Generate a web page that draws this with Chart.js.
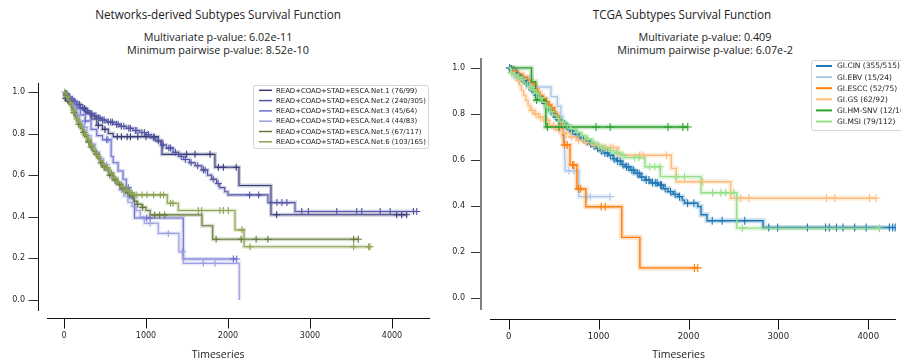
<!DOCTYPE html>
<html>
<head>
<meta charset="utf-8">
<script src="https://cdn.jsdelivr.net/npm/chart.js@4.4.1/dist/chart.umd.min.js"></script>
<style>
  body { margin: 0; width: 901px; height: 362px; background: #fff; position: relative; overflow: hidden; font-family: "Open Sans", sans-serif; color: #222; }
  .t { position: absolute; white-space: nowrap; transform: translateX(-50%); line-height: 1; }
  canvas { position: absolute; top: 0; }
</style>
</head>
<body>
<div class="t" style="left:218px;top:9px;font-size:11.7px">Networks-derived Subtypes Survival Function</div>
<div class="t" style="left:218px;top:32px;font-size:10.8px">Multivariate p-value: 6.02e-11</div>
<div class="t" style="left:218px;top:45px;font-size:10.8px">Minimum pairwise p-value: 8.52e-10</div>
<div class="t" style="left:682px;top:9px;font-size:11.7px">TCGA Subtypes Survival Function</div>
<div class="t" style="left:705px;top:32px;font-size:10.8px">Multivariate p-value: 0.409</div>
<div class="t" style="left:705px;top:45px;font-size:10.8px">Minimum pairwise p-value: 6.07e-2</div>

<canvas id="netChart" width="450" height="362" style="left:0"></canvas>
<canvas id="tcgaChart" width="451" height="362" style="left:450px"></canvas>

<script>
// ---- tick values ----
const survivalTicks = [0, 0.2, 0.4, 0.6, 0.8, 1.0];
const timeTicks = [0, 1000, 2000, 3000, 4000];

// ---- left panel: network-derived subtypes ----
const netLabels = [
    "READ+COAD+STAD+ESCA.Net.1 (76/99)",
    "READ+COAD+STAD+ESCA.Net.2 (240/305)",
    "READ+COAD+STAD+ESCA.Net.3 (45/64)",
    "READ+COAD+STAD+ESCA.Net.4 (44/83)",
    "READ+COAD+STAD+ESCA.Net.5 (67/117)",
    "READ+COAD+STAD+ESCA.Net.6 (103/165)"
];
const netColors = ["#393b79", "#5254a3", "#6b6ecf", "#9c9ede", "#637939", "#8ca252"];

// [time, survival after the drop]
const net1Steps = [[0,1],[10,.97],[30,.96],[120,.94],[200,.92],[260,.90],[330,.87],[400,.84],[470,.82],[540,.80],[600,.785],[1150,.765],[1195,.70],[1841,.638],[2134,.55],[2524,.41]];
const net1Censored = [20,45,60,250,420,500,650,700,770,810,900,1000,1100,1496,1598,1781,1882,1943,2100,2593,4057,4118,4179];

const net2Steps = [[0,1],[20,.99],[50,.975],[80,.965],[110,.955],[150,.94],[200,.925],[250,.91],[300,.895],[350,.885],[400,.875],[450,.865],[520,.855],[600,.845],[680,.835],[760,.825],[840,.815],[920,.805],[1000,.795],[1060,.78],[1120,.765],[1180,.745],[1250,.73],[1330,.71],[1400,.69],[1460,.675],[1530,.66],[1600,.645],[1680,.625],[1750,.60],[1800,.58],[1860,.56],[1900,.54],[1960,.52],[2000,.505],[2487,.468],[2817,.425]];
const net2Censored = [30,60,100,130,170,190,230,270,290,320,340,370,390,420,440,470,490,540,570,590,640,660,700,730,790,810,870,890,950,980,1030,1090,1150,1210,1280,1300,1360,1430,1480,1550,1630,1700,1720,1820,1880,2264,2374,2596,2657,2718,2899,2980,3326,3570,3631,3855,3977,4261,4302];

const net3Steps = [[0,1],[20,.985],[60,.97],[100,.95],[150,.92],[200,.89],[260,.86],[330,.82],[400,.79],[470,.77],[575,.69],[600,.66],[660,.62],[720,.58],[760,.54],[800,.49],[860,.394],[1455,.197]];
const net3Censored = [40,130,260,520,537,785,1008,1049,2065,2106];

const net4Steps = [[0,1],[20,.98],[50,.96],[80,.94],[110,.92],[150,.89],[190,.86],[230,.83],[280,.79],[330,.75],[380,.71],[430,.68],[480,.65],[530,.62],[580,.59],[630,.56],[680,.53],[730,.50],[780,.47],[830,.45],[880,.43],[930,.40],[980,.369],[1150,.32],[1402,.232],[1455,.176],[2138,0]];
const net4Censored = [30,90,170,250,400,520,700,1050,1272,1443,1699,1841];

const net5Steps = [[0,1],[15,.985],[35,.97],[55,.955],[75,.94],[95,.92],[115,.90],[135,.88],[155,.86],[175,.845],[200,.825],[225,.805],[250,.785],[285,.76],[320,.735],[350,.715],[380,.70],[410,.68],[440,.66],[470,.64],[500,.625],[550,.60],[600,.577],[650,.555],[700,.535],[750,.515],[800,.50],[850,.475],[890,.46],[950,.445],[1000,.43],[1050,.409],[1683,.357],[1813,.292]];
const net5Censored = [25,60,120,180,240,300,330,400,450,490,560,620,680,720,780,830,900,960,1106,1167,1228,1855,2160,2343,2486,3532,3589];

const net6Steps = [[0,1],[15,.99],[35,.975],[55,.96],[75,.945],[95,.93],[115,.91],[135,.89],[155,.87],[175,.855],[200,.835],[225,.815],[250,.795],[285,.77],[320,.745],[350,.725],[380,.705],[410,.69],[440,.67],[470,.65],[500,.635],[550,.61],[600,.585],[650,.565],[700,.545],[750,.525],[800,.515],[850,.505],[1260,.465],[1394,.43],[2085,.337],[2195,.256]];
const net6Censored = [10,40,80,120,160,210,260,300,340,390,420,480,530,580,620,660,720,760,790,830,890,951,1012,1093,1175,1215,1300,1330,1638,1679,1902,1943,2004,2170,2268,3532,3715,3732];

// ---- right panel: TCGA subtypes ----
const tcgaLabels = ["GI.CIN (355/515)", "GI.EBV (15/24)", "GI.ESCC (52/75)", "GI.GS (62/92)", "GI.HM-SNV (12/16)", "GI.MSI (79/112)"];
const tcgaColors = ["#1f77b4", "#aec7e8", "#ff7f0e", "#ffbb78", "#2ca02c", "#98df8a"];

const cinSteps = [[0,1],[20,.995],[40,.99],[60,.98],[80,.975],[100,.965],[130,.955],[160,.945],[190,.935],[220,.92],[250,.905],[280,.895],[310,.88],[340,.87],[370,.86],[400,.845],[430,.83],[460,.815],[490,.80],[520,.785],[550,.775],[580,.765],[610,.755],[640,.745],[670,.735],[700,.725],[740,.71],[780,.70],[820,.69],[860,.68],[900,.67],[940,.66],[980,.65],[1020,.64],[1060,.63],[1110,.62],[1160,.605],[1200,.595],[1250,.58],[1294,.57],[1350,.555],[1404,.541],[1460,.525],[1515,.512],[1580,.50],[1662,.49],[1720,.475],[1772,.462],[1830,.45],[1882,.44],[1930,.425],[1956,.411],[2103,.397],[2140,.361],[2206,.335],[2830,.306]];
const cinCensored = [10,30,50,70,90,110,140,170,200,230,260,290,320,350,380,410,440,470,500,530,560,590,620,650,680,710,750,790,830,870,910,950,990,1030,1070,1100,1130,1170,1210,1240,1270,1310,1330,1370,1390,1430,1450,1480,1530,1560,1600,1630,1650,1690,1700,1740,1800,1850,1900,1990,2060,2264,2374,2626,2893,2992,3323,3525,3566,3647,3720,3849,3977,4235,4272,4300];

const ebvSteps = [[0,1],[60,.958],[250,.917],[470,.875],[540,.833],[580,.79],[600,.75],[612,.708],[618,.667],[622,.61],[627,.553],[780,.44]];
const ebvCensored = [669,724,871,908,1128];

const esccSteps = [[0,1],[40,.987],[100,.973],[160,.96],[210,.947],[250,.933],[280,.92],[300,.907],[320,.893],[350,.88],[380,.867],[410,.853],[440,.84],[470,.827],[500,.813],[520,.80],[545,.787],[560,.773],[575,.76],[590,.733],[600,.707],[610,.68],[615,.665],[681,.578],[758,.474],[857,.396],[1257,.263],[1459,.13]];
const esccCensored = [300,420,480,620,650,710,725,775,800,1029,1073,2066,2103];

const gsSteps = [[0,1],[20,.978],[60,.967],[90,.946],[120,.924],[140,.902],[165,.88],[190,.858],[215,.836],[240,.815],[280,.80],[330,.785],[380,.772],[450,.75],[520,.73],[600,.715],[680,.70],[760,.685],[840,.675],[920,.665],[1000,.654],[1220,.62],[1809,.563],[1864,.505],[2470,.433]];
const gsCensored = [110,260,300,350,420,500,560,640,700,780,860,950,1030,1080,1130,1160,1459,1496,1753,2158,2581,2672,3536,3628,4014,4088];

const hmsnvSteps = [[0,1],[253,.94],[300,.86],[412,.743]];
const hmsnvCensored = [310,368,430,559,970,1128,1772,1937,1992];

const msiSteps = [[0,1],[20,.98],[50,.97],[90,.96],[130,.95],[170,.935],[210,.92],[250,.905],[290,.89],[330,.87],[370,.85],[410,.83],[450,.81],[490,.795],[530,.78],[570,.765],[620,.75],[680,.735],[740,.72],[800,.705],[860,.69],[920,.675],[980,.66],[1040,.65],[1110,.64],[1180,.63],[1250,.62],[1294,.61],[1515,.57],[1687,.527],[2140,.457],[2536,.303]];
const msiCensored = [30,70,110,150,230,270,310,350,430,470,550,600,650,700,760,820,880,940,1000,1060,1130,1200,1270,1400,1450,1570,1625,1680,1864,1956,2268,2360,2415,2507,2599,4124];

// Function to merge step points and censored times into one sorted point list
function kmPoints(steps, censored) {
    var pts = steps.map(function (s) { return { x: s[0], y: s[1], c: false }; });
    censored.forEach(function (t) {
        var surv = 1;
        steps.forEach(function (s) { if (s[0] <= t) surv = s[1]; });
        pts.push({ x: t, y: surv, c: true });
    });
    pts.sort(function (a, b) { return a.x - b.x || (a.c - b.c); });
    return pts;
}

function withAlpha(hex, a) {
    var n = parseInt(hex.slice(1), 16);
    return "rgba(" + (n >> 16) + "," + ((n >> 8) & 255) + "," + (n & 255) + "," + a + ")";
}

// one thin line with "+" marks, plus a pale wide band under it
function buildDatasets(curves, labels, colors, style) {
    var sets = [];
    curves.forEach(function (cv, i) {
        var pts = kmPoints(cv[0], cv[1]);
        sets.push({
            label: labels[i] + " band",
            data: pts,
            stepped: true,
            borderColor: withAlpha(colors[i], 0.25),
            borderWidth: style.band,
            pointRadius: 0,
            fill: false,
            order: 100 - i
        });
        sets.push({
            label: labels[i],
            legendColor: colors[i],
            data: pts,
            stepped: true,
            borderColor: colors[i],
            borderWidth: style.line,
            pointStyle: "cross",
            pointRadius: function (ctx) { return ctx.raw && ctx.raw.c ? style.mark : 0; },
            pointBorderColor: colors[i],
            pointBorderWidth: 1.1,
            fill: false,
            order: 20 - i
        });
    });
    return sets;
}

// Plugin: offset spines with ticks, x title and a boxed legend
const spinesAndLegend = {
    id: "spinesAndLegend",
    afterDraw: function (chart, args, o) {
        var ctx = chart.ctx, a = chart.chartArea;
        var xs = chart.scales.x, ys = chart.scales.y;
        ctx.save();

        // y spine
        var sx = Math.round(a.left - o.yOffset) + (o.ySpineWidth % 2 ? 0.5 : 0);
        ctx.strokeStyle = o.ySpineColor;
        ctx.lineWidth = o.ySpineWidth;
        ctx.beginPath(); ctx.moveTo(sx, a.top); ctx.lineTo(sx, a.bottom); ctx.stroke();
        ctx.strokeStyle = "#333";
        ctx.lineWidth = 1;
        ys.ticks.forEach(function (t) {
            var py = Math.round(ys.getPixelForValue(t.value)) + 0.5;
            ctx.beginPath(); ctx.moveTo(sx - 10, py); ctx.lineTo(sx - o.ySpineWidth / 2, py); ctx.stroke();
        });

        // x spine
        var sy = Math.round(a.bottom + o.xOffset) + 0.5;
        ctx.strokeStyle = "#111";
        ctx.beginPath(); ctx.moveTo(a.left, sy); ctx.lineTo(a.right, sy); ctx.stroke();
        xs.ticks.forEach(function (t) {
            var px = Math.round(xs.getPixelForValue(t.value)) + 0.5;
            ctx.beginPath(); ctx.moveTo(px, sy); ctx.lineTo(px, sy + 10); ctx.stroke();
        });

        // x title
        ctx.fillStyle = "#222";
        ctx.font = "10.5px 'Open Sans'";
        ctx.textAlign = "center";
        ctx.textBaseline = "middle";
        ctx.fillText(o.xTitle, xs.getPixelForValue(o.xTitleAt), o.xTitleY);

        // legend
        var lg = o.legend;
        ctx.fillStyle = "rgba(255,255,255,0.85)";
        ctx.strokeStyle = "#d4d4d4";
        ctx.lineWidth = 1;
        ctx.beginPath();
        ctx.roundRect(lg.x + 0.5, lg.y + 0.5, lg.w, lg.h, 2);
        ctx.fill(); ctx.stroke();
        ctx.font = lg.font + "px 'DejaVu Sans'";
        ctx.textAlign = "left";
        var items = chart.data.datasets.filter(function (d) { return d.legendColor; });
        items.forEach(function (d, i) {
            var ry = lg.row0 + i * lg.rowH;
            ctx.strokeStyle = d.legendColor;
            ctx.lineWidth = lg.handleW;
            ctx.beginPath(); ctx.moveTo(lg.hx0, ry); ctx.lineTo(lg.hx1, ry); ctx.stroke();
            ctx.fillStyle = "#222";
            ctx.fillText(d.label, lg.tx, ry + 0.5);
        });
        ctx.restore();
    }
};

function makeChart(canvasId, datasets, s) {
    return new Chart(document.getElementById(canvasId), {
        type: "line",
        data: { datasets: datasets },
        options: {
            responsive: false,
            animation: false,
            events: [],
            layout: { padding: { top: s.top, right: s.right, left: 0, bottom: 0 } },
            scales: {
                x: {
                    type: "linear",
                    min: s.xMin, max: s.xMax,
                    afterBuildTicks: function (sc) { sc.ticks = timeTicks.map(function (v) { return { value: v }; }); },
                    afterFit: function (sc) { sc.height = s.xHeight; },
                    grid: { display: false, drawTicks: false },
                    border: { display: false },
                    ticks: { padding: s.xPad, color: "#262626", font: { family: "DejaVu Sans", size: s.xFont }, maxRotation: 0,
                        callback: function (v) { return String(v); } }
                },
                y: {
                    min: -0.053, max: 1.043,
                    afterBuildTicks: function (sc) { sc.ticks = survivalTicks.map(function (v) { return { value: v }; }); },
                    afterFit: function (sc) { sc.width = s.yWidth; },
                    grid: { display: false, drawTicks: false },
                    border: { display: false },
                    ticks: { padding: s.yPad, color: "#262626", font: { family: "DejaVu Sans", size: 8 },
                        callback: function (v) { return v.toFixed(1); } }
                }
            },
            plugins: {
                legend: { display: false },
                tooltip: { enabled: false },
                spinesAndLegend: s.deco
            }
        },
        plugins: [spinesAndLegend]
    });
}

makeChart("netChart",
    buildDatasets([[net1Steps, net1Censored], [net2Steps, net2Censored], [net3Steps, net3Censored],
                   [net4Steps, net4Censored], [net5Steps, net5Censored], [net6Steps, net6Censored]],
                  netLabels, netColors, { band: 4, line: 1.1, mark: 3.5 }),
    {
        top: 83, right: 20, xHeight: 51, yWidth: 47, xMin: -207, xMax: 4463,
        xPad: 20, xFont: 8, yPad: 22,
        deco: {
            yOffset: 9, ySpineColor: "#111", ySpineWidth: 1, xOffset: 7,
            xTitle: "Timeseries", xTitleAt: 1880, xTitleY: 355,
            legend: { x: 253, y: 85, w: 175, h: 63, row0: 90.3, rowH: 10.3, hx0: 259, hx1: 272, handleW: 1.5, tx: 276, font: 6.9 }
        }
    });

makeChart("tcgaChart",
    buildDatasets([[cinSteps, cinCensored], [ebvSteps, ebvCensored], [esccSteps, esccCensored],
                   [gsSteps, gsCensored], [hmsnvSteps, hmsnvCensored], [msiSteps, msiCensored]],
                  tcgaLabels, tcgaColors, { band: 5, line: 1.4, mark: 4 }),
    {
        top: 58, right: 0, xHeight: 52, yWidth: 40, xMin: -209, xMax: 4308,
        xPad: 21.5, xFont: 8.5, yPad: 25,
        deco: {
            yOffset: 9, ySpineColor: "#808080", ySpineWidth: 2, xOffset: 9,
            xTitle: "Timeseries", xTitleAt: 1890, xTitleY: 355,
            legend: { x: 361, y: 60, w: 120, h: 70, row0: 66, rowH: 11.1, hx0: 366, hx1: 382, handleW: 2, tx: 387, font: 7.5 }
        }
    });
</script>
</body>
</html>
